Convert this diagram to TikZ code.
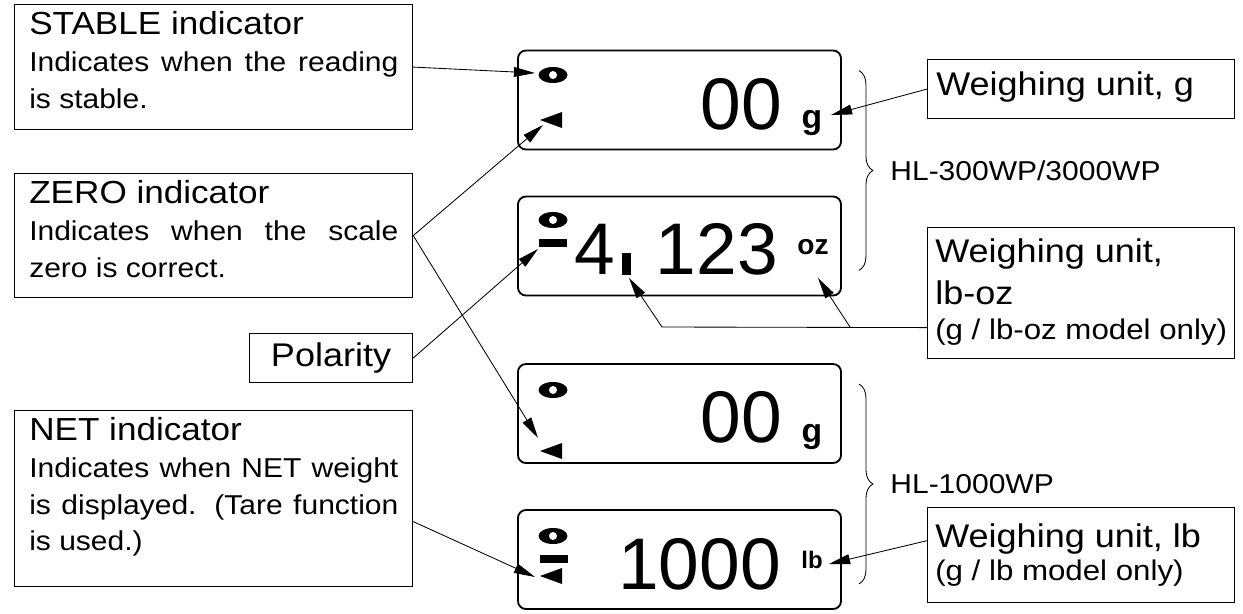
\documentclass[tikz,border=0pt]{standalone}
\usepackage{fontspec}
\setmainfont{Liberation Sans}[FakeStretch=1.1]
\newfontfamily\lcdfont{Liberation Sans}
\usepackage{tikz}
\usetikzlibrary{shapes.geometric, arrows.meta, positioning, calc, decorations.pathreplacing}
\newcommand{\headfont}{\fontsize{22.7}{26}\selectfont}
\newcommand{\notefont}{\fontsize{20.2}{22}\selectfont}

\begin{document}
\begin{tikzpicture}[
  x=0.025cm, y=-0.025cm,
  callout/.style={rectangle, draw, line width=0.8pt, anchor=north west,
    minimum width=9.95cm, inner sep=0pt},
  calltxt/.style={anchor=north west, inner sep=0pt, text width=9.225cm,
    align=justify, font=\fontsize{19.4}{26.2}\selectfont},
  unitbox/.style={rectangle, draw, line width=0.8pt, anchor=north west,
    minimum width=7.675cm, inner sep=0pt},
  unittxt/.style={anchor=north west, inner sep=0pt, align=left,
    font=\fontsize{23.3}{30.5}\selectfont},
  lcd/.style={rectangle, draw, line width=1.3pt, rounded corners=0.2cm,
    minimum width=8.075cm, minimum height=2.475cm},
  digits/.style={inner sep=0pt, font=\lcdfont\fontsize{52}{52}\selectfont},
  unitsym/.style={inner sep=0pt, anchor=base},
  eyemark/.style={ellipse, fill=black, minimum width=0.725cm,
    minimum height=0.4cm, inner sep=0pt},
  pupil/.style={circle, fill=white, minimum size=0.2cm, inner sep=0pt},
  minusbar/.style={rectangle, fill=black, minimum width=0.7cm,
    minimum height=0.2cm, inner sep=0pt},
  pointer/.style={-{Triangle[length=15pt, width=7pt]}, line width=0.6pt},
  brace/.style={decorate, decoration={brace, amplitude=0.35cm}, line width=0.6pt},
  model/.style={anchor=west, inner sep=0pt, font=\fontsize{19.4}{20}\selectfont}
]
\useasboundingbox (0,0) rectangle (1243,613);

% callout boxes on the left
\node[callout, minimum height=3.125cm] (stable) at (14,4) {};
\node[callout, minimum height=3.1cm] (zero) at (14,173) {};
\node[callout, minimum width=4.075cm, minimum height=1.225cm,
  font=\fontsize{23.3}{24}\selectfont] (polarity) at (249,333) {Polarity};
\node[callout, minimum height=4.4cm] (net) at (14,410) {};

\node[calltxt] (stabletxt) at (29,11)
  {{\headfont STABLE indicator}\\Indicates when the reading is stable.};
\node[calltxt] (zerotxt) at (29,180)
  {{\headfont ZERO indicator}\\Indicates when the scale zero is correct.};
\node[calltxt] (nettxt) at (29,417)
  {{\headfont NET indicator}\\Indicates when NET weight is displayed. (Tare function is used.)};

% unit boxes on the right
\node[unitbox, minimum height=1.475cm] (unitg) at (927,59) {};
\node[unitbox, minimum height=3.275cm] (unitoz) at (927,227) {};
\node[unitbox, minimum height=2.375cm] (unitlb) at (927,507) {};

\node[unittxt] (unitgtxt) at (936,71) {Weighing unit, g};
\node[unittxt] (unitoztxt) at (935,238)
  {Weighing unit,\\lb-oz\\[-5.7pt]{\notefont (g / lb-oz model only)}};
\node[unittxt] (unitlbtxt) at (935,523)
  {Weighing unit, lb\\[-7pt]{\notefont (g / lb model only)}};

% displays
\node[lcd] (disp1) at (679.5,100) {};
\node[lcd] (disp2) at (679.5,246) {};
\node[lcd] (disp3) at (679.5,413.5) {};
\node[lcd] (disp4) at (679.5,559.5) {};

\node[eyemark] (eye1) at (553,75) {};
\node[pupil] (pupil1) at (eye1) {};
\node[eyemark] (eye2) at (553,220) {};
\node[pupil] (pupil2) at (eye2) {};
\node[eyemark] (eye3) at (553,390) {};
\node[pupil] (pupil3) at (eye3) {};
\node[eyemark] (eye4) at (553,536) {};
\node[pupil] (pupil4) at (eye4) {};

\node[minusbar] (minus2) at (553,243) {};
\node[minusbar] (minus4) at (553.5,559) {};

\fill (540,120) -- (562,112) -- (562,128) -- cycle;
\fill (540,451) -- (562,443) -- (562,459) -- cycle;
\fill (540,576) -- (562,568) -- (562,584) -- cycle;

\node[digits, anchor=base east] (read1) at (782,129) {00};
\node[unitsym, font=\lcdfont\bfseries\fontsize{24}{24}\selectfont] (unit1) at (812,128) {g};
\node[digits, anchor=base west] (read2a) at (574,274) {4};
\node[rectangle, fill=black, minimum width=0.225cm, minimum height=0.55cm,
  inner sep=0pt] (sep2) at (626.5,264) {};
\node[digits, anchor=base east] (read2b) at (778,274) {123};
\node[unitsym, font=\lcdfont\bfseries\fontsize{20}{20}\selectfont] (unit2) at (813,254) {oz};
\node[digits, anchor=base east] (read3) at (782,442) {00};
\node[unitsym, font=\lcdfont\bfseries\fontsize{24}{24}\selectfont] (unit3) at (812,442) {g};
\node[digits, anchor=base east] (read4) at (781,589) {1000};
\node[unitsym, font=\lcdfont\bfseries\fontsize{17}{17}\selectfont] (unit4) at (812,568) {lb};

% model braces
\draw[brace] ([xshift=0.425cm, yshift=-0.525cm]disp1.north east)
  -- ([xshift=0.425cm, yshift=0.65cm]disp2.south east)
  node[model, midway, xshift=0.775cm] (hl300) {HL-300WP/3000WP};
\draw[brace] ([xshift=0.425cm, yshift=-0.525cm]disp3.north east)
  -- ([xshift=0.425cm, yshift=0.65cm]disp4.south east)
  node[model, midway, xshift=0.775cm] (hl1000) {HL-1000WP};

% arrow ends
\coordinate (stabletip) at (535,73);
\coordinate (zerotip1) at (543,125);
\coordinate (zerotip2) at (538,438);
\coordinate (poltip) at (538,249);
\coordinate (nettip) at (535,577);
\coordinate (gtip) at (831,115);
\coordinate (ozknee) at (662,327);
\coordinate (septip) at (629,278);
\coordinate (ozfork) at (850,327);
\coordinate (oztip) at (818,278);
\coordinate (lbtip) at (829,564);

\draw[pointer] (stable.east) -- (stabletip);
\draw[pointer] (zero.east) -- (zerotip1);
\draw[pointer] (zero.east) -- (zerotip2);
\draw[pointer] (polarity.east) -- (poltip);
\draw[pointer] ([yshift=-0.575cm]net.east) -- (nettip);
\draw[pointer] (unitg.west) -- (gtip);
\draw[pointer] ([yshift=-0.8625cm]unitoz.west) -- (ozknee) -- (septip);
\draw[pointer] (ozfork) -- (oztip);
\draw[pointer] ([yshift=0.36cm]unitlb.west) -- (lbtip);

\end{tikzpicture}
\end{document}
